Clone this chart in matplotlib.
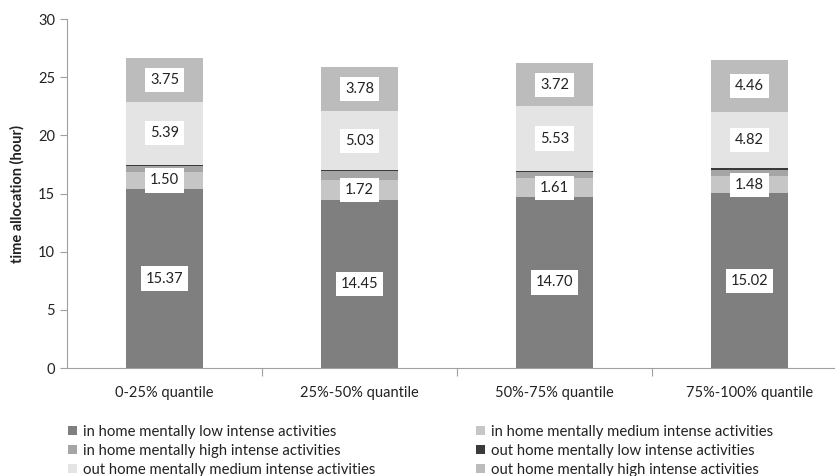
import numpy
import matplotlib
matplotlib.use('Agg')
import matplotlib.pyplot as plt

plt.rcParams['font.family'] = ['Lato', 'DejaVu Sans']

######################################################################
# Data
######################################################################

quantiles = [
    '0-25% quantile',
    '25%-50% quantile',
    '50%-75% quantile',
    '75%-100% quantile'
]

in_home_low = [15.37, 14.45, 14.70, 15.02]
in_home_medium = [1.50, 1.72, 1.61, 1.48]
in_home_high = [0.50, 0.78, 0.55, 0.55]
out_home_low = [0.12, 0.08, 0.10, 0.12]
out_home_medium = [5.39, 5.03, 5.53, 4.82]
out_home_high = [3.75, 3.78, 3.72, 4.46]

series = [
    ('in home mentally low intense activities', in_home_low, '#7f7f7f', True),
    ('in home mentally medium intense activities', in_home_medium, '#c6c6c6', True),
    ('in home mentally high intense activities', in_home_high, '#a5a5a5', False),
    ('out home mentally low intense activities', out_home_low, '#3a3a3a', False),
    ('out home mentally medium intense activities', out_home_medium, '#e4e4e4', True),
    ('out home mentally high intense activities', out_home_high, '#bcbcbc', True),
]

######################################################################
# Figure
######################################################################

fig = plt.figure(figsize=(8.35, 4.76), dpi=100)
ax = fig.add_axes([67 / 835, 1 - 368 / 476, 780 / 835, 349 / 476])

x = numpy.arange(len(quantiles))
bottom = numpy.zeros(len(quantiles))
handles = []

for name, values, color, labeled in series:

    values = numpy.asarray(values)
    bars = ax.bar(x, values, width=0.39, bottom=bottom,
                  color=color, label=name, zorder=2)
    handles.append(bars)

    if labeled:
        ax.bar_label(
            bars,
            labels=[f'{v:.2f}' for v in values],
            label_type='center',
            fontsize=10.5,
            color='#222222',
            bbox=dict(boxstyle='square,pad=0.35', facecolor='white',
                      edgecolor='none')
        )

    bottom = bottom + values

ax.set_xlim(-0.5, len(quantiles) - 0.5)
ax.set_ylim(0, 30)
ax.set_yticks(numpy.arange(0, 31, 5))

ax.set_xticks(numpy.arange(0.5, len(quantiles) - 0.5, 1))
ax.set_xticklabels([])
ax.set_xticks(x, minor=True)
ax.set_xticklabels(quantiles, minor=True, fontsize=10.5, color='#222222')
ax.tick_params(axis='x', which='minor', length=0, pad=13)
ax.tick_params(axis='x', which='major', length=6, color='#a0a0a0')
ax.tick_params(axis='y', length=5, color='#a0a0a0', labelsize=10.5,
               labelcolor='#222222')

for side in ['top', 'right']:
    ax.spines[side].set_visible(False)
for side in ['left', 'bottom']:
    ax.spines[side].set_color('#a0a0a0')

ax.set_ylabel('time allocation (hour)', fontweight='bold', fontsize=10.5,
              color='#222222', labelpad=10)

# legend is filled row by row in the original
order = [0, 2, 4, 1, 3, 5]
fig.legend(
    [handles[i] for i in order],
    [series[i][0] for i in order],
    ncol=2,
    loc='lower left',
    bbox_to_anchor=(0.065, -0.03),
    frameon=False,
    fontsize=10.7,
    handlelength=0.6,
    handleheight=0.6,
    handletextpad=0.4,
    columnspacing=6.8,
    labelspacing=0.35,
    labelcolor='#222222'
)

plt.savefig('out.png', dpi=100)
plt.close()
